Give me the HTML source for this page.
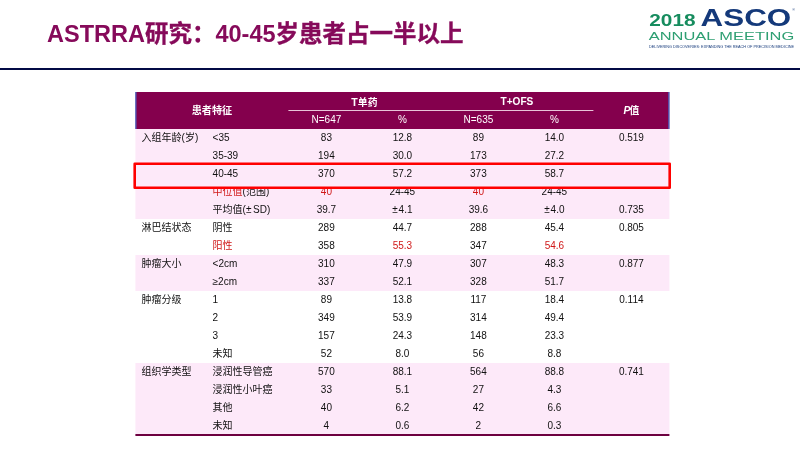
<!DOCTYPE html>
<html lang="zh">
<head>
<meta charset="utf-8">
<title>ASTRRA研究</title>
<style>
html,body{margin:0;padding:0;}
body{width:800px;height:450px;position:relative;overflow:hidden;background:#fff;font-family:"Liberation Sans","Noto Sans CJK SC",sans-serif;}
#title{position:absolute;left:47px;top:19px;font-size:23.5px;line-height:30px;font-weight:bold;color:#860a5a;white-space:nowrap;letter-spacing:0;}
#title .k{-webkit-text-stroke:0.35px #860a5a;}
#rule{position:absolute;left:0;top:68px;width:800px;height:2px;background:#030a45;}
#logo{position:absolute;left:640px;top:0;width:160px;height:60px;}
#tbl{position:absolute;left:135px;top:92px;width:534px;height:345px;transform:translateX(0.4px);}
#hdr{position:absolute;left:0;top:0;width:534px;height:37px;background:#84004d;color:#fff;}
#hdr div{position:absolute;text-align:center;white-space:nowrap;font-size:9.8px;line-height:14px;}
#hdr .b{font-weight:bold;}
#hdr:before,#hdr:after{content:'';position:absolute;top:0;width:1.2px;height:37px;background:#3d7be0;left:0}#hdr:after{left:532.9px}
#hline{position:absolute;left:153px;top:18px;width:305px;height:1px;background:#e8c4d8;}
.band{position:absolute;left:0;width:534px;background:#fde9f9;}
.row{position:absolute;left:0;width:534px;height:18px;font-size:10px;line-height:18px;color:#111;white-space:nowrap;}
.row span{position:absolute;top:0;text-align:center;width:76px;}
.row .g{left:6.2px;text-align:left;width:auto;}
.row .s{left:77.2px;text-align:left;width:auto;}
.c1{left:153px}.c2{left:229px}.c3{left:305px}.c4{left:381px}.c5{left:458px}
.red{color:#d01818;}
#bot{position:absolute;left:0;top:342px;width:534px;height:2px;background:#6d0040;}
#box{position:absolute;left:0;top:0;width:800px;height:450px;}
</style>
</head>
<body>
<div id="title">ASTRRA<span class="k">研究：</span>40-45<span class="k">岁患者占一半以上</span></div>
<div id="rule"></div>
<svg id="logo" viewBox="640 0 160 60">
<text x="649.3" y="26.4" font-family="Liberation Sans, sans-serif" font-weight="bold" font-size="16.2" fill="#168c5e" textLength="46.3" lengthAdjust="spacingAndGlyphs">2018</text>
<text x="700.6" y="26.3" font-family="Liberation Sans, sans-serif" font-weight="bold" font-size="24.2" fill="#14397a" textLength="90.6" lengthAdjust="spacingAndGlyphs">ASCO</text>
<text x="792.2" y="11.2" font-family="Liberation Sans, sans-serif" font-size="3.6" fill="#14397a">®</text>
<text x="648.8" y="39.6" font-family="Liberation Sans, sans-serif" font-size="11.4" fill="#2e9f72" textLength="145.4" lengthAdjust="spacingAndGlyphs">ANNUAL MEETING</text>
<text x="649" y="47.5" font-family="Liberation Sans, sans-serif" font-size="3.2" fill="#14397a" textLength="145" lengthAdjust="spacingAndGlyphs">DELIVERING DISCOVERIES: EXPANDING THE REACH OF PRECISION MEDICINE</text>
</svg>

<div id="tbl">
 <div class="band" style="top:37px;height:90px"></div>
 <div class="band" style="top:163px;height:36px"></div>
 <div class="band" style="top:271px;height:72px"></div>
 <div id="hdr">
  <div class="b" style="left:0;width:153px;top:12px;font-size:10.1px">患者特征</div>
  <div class="b" style="left:153px;width:152px;top:3px"><span style="font-size:10.6px">T</span>单药</div>
  <div class="b" style="left:305px;width:153px;top:3px;font-size:10.1px">T+OFS</div>
  <div class="b" style="left:458px;width:76px;top:12px"><i style="font-size:10.3px;letter-spacing:-0.8px">P</i>值</div>
  <div style="left:153px;width:76px;top:21px;font-size:10px">N=647</div>
  <div style="left:229px;width:76px;top:21px;font-size:10px">%</div>
  <div style="left:305px;width:76px;top:21px;font-size:10px">N=635</div>
  <div style="left:381px;width:76px;top:21px;font-size:10px">%</div>
  <div id="hline"></div>
 </div>
 <div class="row" style="top:37px"><span class="g">入组年龄(岁)</span><span class="s">&lt;35</span><span class="c1">83</span><span class="c2">12.8</span><span class="c3">89</span><span class="c4">14.0</span><span class="c5">0.519</span></div>
 <div class="row" style="top:55px"><span class="s">35-39</span><span class="c1">194</span><span class="c2">30.0</span><span class="c3">173</span><span class="c4">27.2</span></div>
 <div class="row" style="top:91px"><span class="s"><span style="position:static" class="red">中位值</span>(范围)</span><span class="c1 red">40</span><span class="c2">24-45</span><span class="c3 red">40</span><span class="c4">24-45</span></div>
 <div class="row" style="top:109px"><span class="s">平均值(<span style="position:static;letter-spacing:1.6px">±</span>SD)</span><span class="c1">39.7</span><span class="c2"><span style="position:static;letter-spacing:0.8px">±</span>4.1</span><span class="c3">39.6</span><span class="c4"><span style="position:static;letter-spacing:0.8px">±</span>4.0</span><span class="c5">0.735</span></div>
 <div class="row" style="top:127px"><span class="g">淋巴结状态</span><span class="s">阴性</span><span class="c1">289</span><span class="c2">44.7</span><span class="c3">288</span><span class="c4">45.4</span><span class="c5">0.805</span></div>
 <div class="row" style="top:145px"><span class="s red">阳性</span><span class="c1">358</span><span class="c2 red">55.3</span><span class="c3">347</span><span class="c4 red">54.6</span></div>
 <div class="row" style="top:163px"><span class="g">肿瘤大小</span><span class="s">&lt;2cm</span><span class="c1">310</span><span class="c2">47.9</span><span class="c3">307</span><span class="c4">48.3</span><span class="c5">0.877</span></div>
 <div class="row" style="top:181px"><span class="s">≥2cm</span><span class="c1">337</span><span class="c2">52.1</span><span class="c3">328</span><span class="c4">51.7</span></div>
 <div class="row" style="top:199px"><span class="g">肿瘤分级</span><span class="s">1</span><span class="c1">89</span><span class="c2">13.8</span><span class="c3">117</span><span class="c4">18.4</span><span class="c5">0.114</span></div>
 <div class="row" style="top:217px"><span class="s">2</span><span class="c1">349</span><span class="c2">53.9</span><span class="c3">314</span><span class="c4">49.4</span></div>
 <div class="row" style="top:235px"><span class="s">3</span><span class="c1">157</span><span class="c2">24.3</span><span class="c3">148</span><span class="c4">23.3</span></div>
 <div class="row" style="top:253px"><span class="s">未知</span><span class="c1">52</span><span class="c2">8.0</span><span class="c3">56</span><span class="c4">8.8</span></div>
 <div class="row" style="top:271px"><span class="g">组织学类型</span><span class="s">浸润性导管癌</span><span class="c1">570</span><span class="c2">88.1</span><span class="c3">564</span><span class="c4">88.8</span><span class="c5">0.741</span></div>
 <div class="row" style="top:289px"><span class="s">浸润性小叶癌</span><span class="c1">33</span><span class="c2">5.1</span><span class="c3">27</span><span class="c4">4.3</span></div>
 <div class="row" style="top:307px"><span class="s">其他</span><span class="c1">40</span><span class="c2">6.2</span><span class="c3">42</span><span class="c4">6.6</span></div>
 <div class="row" style="top:325px"><span class="s">未知</span><span class="c1">4</span><span class="c2">0.6</span><span class="c3">2</span><span class="c4">0.3</span></div>
 <div id="bot"></div>
</div>
<svg id="box" width="800" height="450"><rect x="134.7" y="163.7" width="535" height="24" fill="#fde9f9" stroke="#ff0000" stroke-width="2.6" stroke-linejoin="round"/></svg>
<div class="row" style="left:135px;top:165px;transform:translateX(0.4px)"><span class="s">40-45</span><span class="c1">370</span><span class="c2">57.2</span><span class="c3">373</span><span class="c4">58.7</span></div>
</body>
</html>
